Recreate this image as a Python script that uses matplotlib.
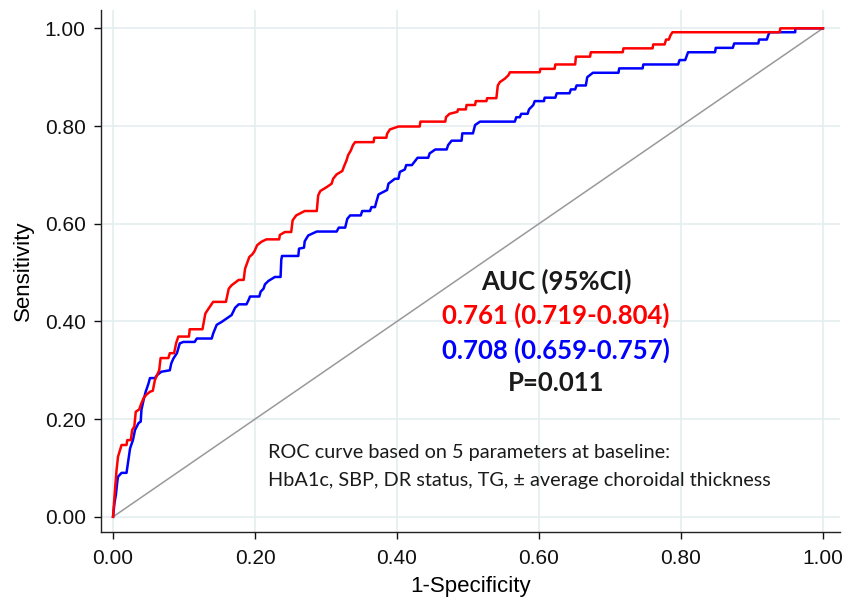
import matplotlib
matplotlib.use("Agg")
import matplotlib.pyplot as plt

# ROC curve vertices (1-specificity, sensitivity)
red_fpr = [0, 0.003, 0.005, 0.007, 0.012, 0.019, 0.02, 0.025, 0.027, 0.03, 0.032, 0.037, 0.039,
           0.043, 0.047, 0.052, 0.056, 0.059, 0.065, 0.067, 0.078, 0.080, 0.086, 0.089, 0.092,
           0.107, 0.108, 0.126, 0.13, 0.134, 0.141, 0.159, 0.163, 0.167, 0.177, 0.184, 0.186,
           0.192, 0.196, 0.199, 0.203, 0.209, 0.216, 0.234, 0.235, 0.242, 0.251, 0.253, 0.258,
           0.27, 0.287, 0.289, 0.292, 0.301, 0.308, 0.31, 0.315, 0.323, 0.325, 0.329, 0.331,
           0.335, 0.338, 0.341, 0.367, 0.368, 0.385, 0.386, 0.39, 0.402, 0.432, 0.433, 0.468,
           0.469, 0.474, 0.485, 0.486, 0.497, 0.498, 0.51, 0.511, 0.526, 0.527, 0.54, 0.542,
           0.545, 0.552, 0.557, 0.559, 0.601, 0.602, 0.622, 0.623, 0.651, 0.652, 0.672, 0.673,
           0.718, 0.719, 0.76, 0.761, 0.777, 0.779, 0.783, 0.785, 0.788, 0.939, 0.940, 1.0]
red_tpr = [0, 0.06, 0.096, 0.123, 0.147, 0.147, 0.157, 0.157, 0.178, 0.185, 0.215, 0.22, 0.229,
           0.243, 0.25, 0.256, 0.258, 0.28, 0.30, 0.325, 0.325, 0.335, 0.335, 0.356, 0.369,
           0.369, 0.384, 0.384, 0.416, 0.425, 0.44, 0.44, 0.467, 0.474, 0.485, 0.485, 0.508,
           0.532, 0.537, 0.543, 0.556, 0.563, 0.568, 0.568, 0.577, 0.583, 0.583, 0.607, 0.617,
           0.626, 0.626, 0.658, 0.667, 0.675, 0.682, 0.692, 0.701, 0.708, 0.716, 0.73, 0.74,
           0.75, 0.761, 0.767, 0.767, 0.776, 0.776, 0.784, 0.793, 0.799, 0.799, 0.809, 0.809,
           0.818, 0.825, 0.829, 0.834, 0.834, 0.843, 0.843, 0.851, 0.851, 0.857, 0.857, 0.883,
           0.89, 0.897, 0.904, 0.91, 0.91, 0.917, 0.917, 0.926, 0.926, 0.942, 0.942, 0.951,
           0.951, 0.959, 0.959, 0.967, 0.967, 0.977, 0.977, 0.985, 0.992, 0.992, 1.0, 1.0]

blue_fpr = [0, 0.002, 0.004, 0.006, 0.007, 0.012, 0.019, 0.022, 0.024, 0.028, 0.031, 0.036, 0.039,
            0.04, 0.043, 0.046, 0.05, 0.052, 0.059, 0.062, 0.068, 0.080, 0.082, 0.085, 0.09,
            0.092, 0.094, 0.099, 0.115, 0.118, 0.139, 0.141, 0.146, 0.153, 0.162, 0.167, 0.172,
            0.177, 0.188, 0.191, 0.193, 0.206, 0.208, 0.212, 0.214, 0.219, 0.228, 0.236, 0.237,
            0.238, 0.261, 0.262, 0.269, 0.27, 0.275, 0.287, 0.315, 0.318, 0.327, 0.33, 0.334,
            0.349, 0.351, 0.362, 0.364, 0.369, 0.371, 0.374, 0.386, 0.388, 0.397, 0.402, 0.404,
            0.411, 0.413, 0.421, 0.429, 0.444, 0.446, 0.454, 0.47, 0.472, 0.477, 0.491, 0.492,
            0.507, 0.51, 0.517, 0.566, 0.568, 0.573, 0.575, 0.584, 0.586, 0.592, 0.594, 0.607,
            0.608, 0.623, 0.625, 0.643, 0.645, 0.651, 0.653, 0.666, 0.668, 0.676, 0.712, 0.713,
            0.746, 0.747, 0.796, 0.798, 0.806, 0.808, 0.81, 0.848, 0.849, 0.873, 0.875, 0.909,
            0.91, 0.921, 0.923, 0.925, 0.961, 0.961, 1.0]
blue_tpr = [0, 0.028, 0.045, 0.072, 0.082, 0.09, 0.09, 0.12, 0.14, 0.157, 0.178, 0.192, 0.195,
            0.219, 0.239, 0.256, 0.273, 0.284, 0.284, 0.29, 0.297, 0.30, 0.314, 0.324, 0.335,
            0.345, 0.355, 0.358, 0.358, 0.365, 0.365, 0.375, 0.393, 0.399, 0.408, 0.413, 0.428,
            0.435, 0.435, 0.444, 0.451, 0.451, 0.461, 0.467, 0.476, 0.483, 0.491, 0.491, 0.526,
            0.534, 0.534, 0.549, 0.551, 0.564, 0.576, 0.584, 0.584, 0.592, 0.592, 0.61, 0.617,
            0.617, 0.626, 0.626, 0.634, 0.634, 0.645, 0.66, 0.669, 0.682, 0.692, 0.692, 0.706,
            0.711, 0.72, 0.72, 0.735, 0.735, 0.744, 0.752, 0.752, 0.761, 0.77, 0.77, 0.785,
            0.785, 0.802, 0.809, 0.809, 0.818, 0.818, 0.825, 0.825, 0.834, 0.843, 0.851, 0.851,
            0.858, 0.858, 0.867, 0.867, 0.875, 0.875, 0.883, 0.883, 0.90, 0.909, 0.909, 0.918,
            0.918, 0.926, 0.926, 0.935, 0.935, 0.943, 0.951, 0.951, 0.96, 0.96, 0.969, 0.969,
            0.977, 0.977, 0.986, 0.992, 0.992, 1.0, 1.0]

ticks = [0.0, 0.2, 0.4, 0.6, 0.8, 1.0]
tick_labels = ["0.00", "0.20", "0.40", "0.60", "0.80", "1.00"]

auc_lines = ["AUC (95%CI)", "0.761 (0.719-0.804)", "0.708 (0.659-0.757)", "P=0.011"]
auc_colors = ["#1a1a1a", "#ff0000", "#0000ff", "#1a1a1a"]
note_lines = ["ROC curve based on 5 parameters at baseline:",
              "HbA1c, SBP, DR status, TG, \u00b1 average choroidal thickness"]

plt.rcParams['font.family'] = ['Liberation Sans', 'DejaVu Sans']

fig = plt.figure(figsize=(8.47, 5.99), dpi=100)
ax = fig.add_axes([0.1192, 0.1119, 0.8725, 0.871])

ax.plot([0, 1], [0, 1], color='#999999', linewidth=1.1, zorder=2)
ax.plot(blue_fpr, blue_tpr, color='#0000ff', linewidth=1.8, zorder=3)
ax.plot(red_fpr, red_tpr, color='#ff0000', linewidth=1.8, zorder=4)

ax.set_xlim(-0.017, 1.024)
ax.set_ylim(-0.031, 1.037)
ax.set_xticks(ticks)
ax.set_xticklabels(tick_labels)
ax.set_yticks(ticks)
ax.set_yticklabels(tick_labels)
ax.tick_params(direction='out', length=5, width=1, labelsize=15, colors='#111111')
ax.tick_params(axis='x', pad=7)
ax.tick_params(axis='y', pad=6)
ax.grid(True, color='#e4edf0', linewidth=1.2, zorder=0)
ax.set_axisbelow(True)

for side in ['top', 'right']:
    ax.spines[side].set_visible(False)
for side in ['left', 'bottom']:
    ax.spines[side].set_color('#222222')
    ax.spines[side].set_linewidth(1)

ax.set_xlabel('1-Specificity', fontsize=16, labelpad=6)
ax.set_ylabel('Sensitivity', fontsize=16, labelpad=8)

y_pos = [0.483, 0.413, 0.341, 0.274]
for txt, col, yy in zip(auc_lines, auc_colors, y_pos):
    ax.text(0.624, yy, txt, color=col, fontsize=18.5, fontweight='bold',
            family=['Lato', 'DejaVu Sans'], ha='center', va='center')

for txt, yy in zip(note_lines, [0.131, 0.075]):
    ax.text(0.219, yy, txt, color='#1a1a1a', fontsize=14.3,
            family=['Lato', 'DejaVu Sans'], ha='left', va='center')

fig.savefig('out.png', dpi=100)
